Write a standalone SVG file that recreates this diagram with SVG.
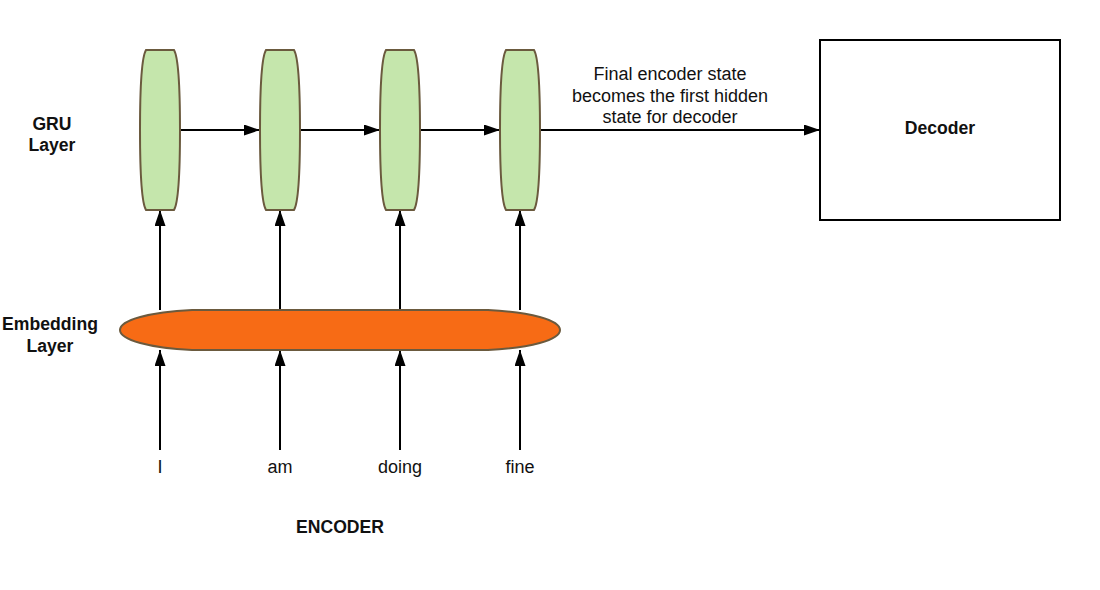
<svg xmlns="http://www.w3.org/2000/svg" width="1100" height="590" viewBox="0 0 1100 590">
<defs>
<style>
.cell{fill:#c5e6ac;stroke:#6b5a3e;stroke-width:2}
.emb{fill:#f76b15;stroke:#6b5a3e;stroke-width:2}
.ln{stroke:#000;stroke-width:2;fill:none;marker-end:url(#ah)}
.t{font-family:"Liberation Sans",Arial,sans-serif;font-size:18px;fill:#111;text-anchor:middle}
.b{font-family:"Liberation Sans",Arial,sans-serif;font-size:17.6px;font-weight:bold;fill:#111;text-anchor:middle}
</style>
<marker id="ah" viewBox="0 0 16 11" refX="16" refY="5.5" markerWidth="16" markerHeight="11" markerUnits="userSpaceOnUse" orient="auto">
<path d="M0,0 L16,5.5 L0,11 Z" fill="#000"/>
</marker>
</defs>
<rect width="1100" height="590" fill="#fff"/>
<g id="connectors">
<line class="ln" x1="180" y1="130" x2="260" y2="130"/>
<line class="ln" x1="300" y1="130" x2="380" y2="130"/>
<line class="ln" x1="420" y1="130" x2="500" y2="130"/>
<line class="ln" x1="540" y1="130" x2="820" y2="130"/>
<line class="ln" x1="160" y1="310" x2="160" y2="210"/>
<line class="ln" x1="280" y1="310" x2="280" y2="210"/>
<line class="ln" x1="400" y1="310" x2="400" y2="210"/>
<line class="ln" x1="520" y1="310" x2="520" y2="210"/>
<line class="ln" x1="160" y1="450" x2="160" y2="350"/>
<line class="ln" x1="280" y1="450" x2="280" y2="350"/>
<line class="ln" x1="400" y1="450" x2="400" y2="350"/>
<line class="ln" x1="520" y1="450" x2="520" y2="350"/>
</g>
<g id="gru1"><path class="cell" d="M146,50 H174 C179,58 180,95 180,130 C180,165 179,202 174,210 H146 C141,202 140,165 140,130 C140,95 141,58 146,50 Z"/></g>
<g id="gru2"><path class="cell" d="M266,50 H294 C299,58 300,95 300,130 C300,165 299,202 294,210 H266 C261,202 260,165 260,130 C260,95 261,58 266,50 Z"/></g>
<g id="gru3"><path class="cell" d="M386,50 H414 C419,58 420,95 420,130 C420,165 419,202 414,210 H386 C381,202 380,165 380,130 C380,95 381,58 386,50 Z"/></g>
<g id="gru4"><path class="cell" d="M506,50 H534 C539,58 540,95 540,130 C540,165 539,202 534,210 H506 C501,202 500,165 500,130 C500,95 501,58 506,50 Z"/></g>
<g id="embedding"><path class="emb" d="M192,310 H488 C530,312 560,320 560,330 C560,340 530,348 488,350 H192 C150,348 120,340 120,330 C120,320 150,312 192,310 Z"/></g>
<g id="decoder">
<rect x="820" y="40" width="240" height="180" fill="#fff" stroke="#000" stroke-width="2"/>
<text class="b" x="940" y="134">Decoder</text>
</g>
<g id="annotation">
<text class="t" x="670" y="80">Final encoder state</text>
<text class="t" x="670" y="102">becomes the first hidden</text>
<text class="t" x="670" y="123">state for decoder</text>
</g>
<g id="labels">
<text class="b" x="52" y="130">GRU</text>
<text class="b" x="52" y="151">Layer</text>
<text class="b" x="50" y="330">Embedding</text>
<text class="b" x="50" y="352">Layer</text>
<text class="b" x="340" y="533">ENCODER</text>
</g>
<g id="words">
<text class="t" x="160" y="473">I</text>
<text class="t" x="280" y="473">am</text>
<text class="t" x="400" y="473">doing</text>
<text class="t" x="520" y="473">fine</text>
</g>
</svg>
